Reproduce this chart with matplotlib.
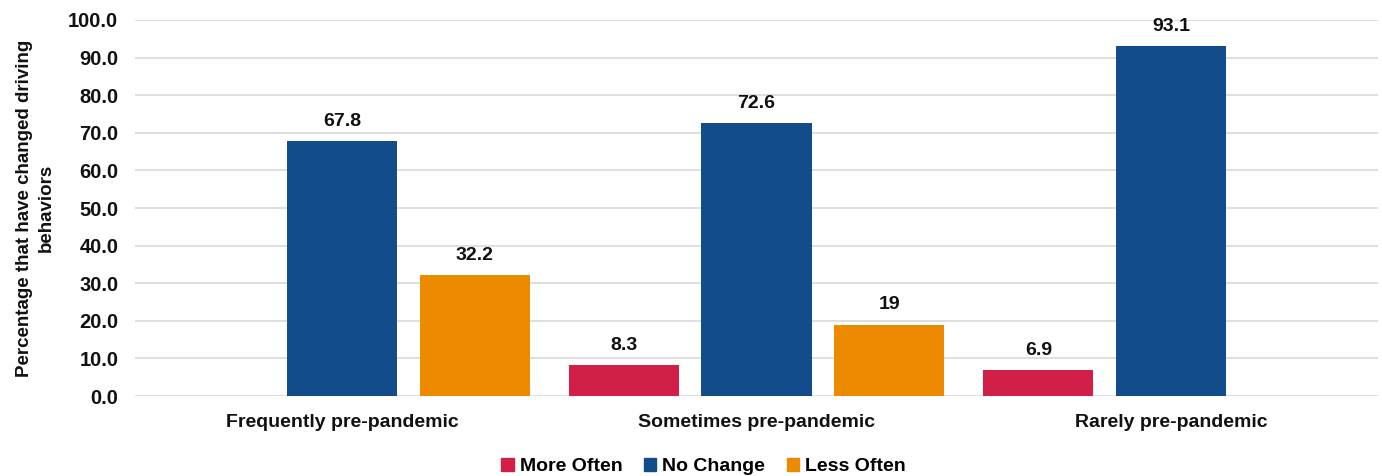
import numpy as np
import matplotlib.pyplot as plt
from matplotlib.patches import Patch

plt.rcParams['font.family'] = ['Liberation Sans', 'DejaVu Sans']
plt.rcParams['font.weight'] = 'bold'

categories = ["Frequently pre-pandemic", "Sometimes pre-pandemic", "Rarely pre-pandemic"]
series = ["More Often", "No Change", "Less Often"]
more_often = [None, 8.3, 6.9]
no_change = [67.8, 72.6, 93.1]
less_often = [32.2, 19, None]
labels = [
    [None, "8.3", "6.9"],
    ["67.8", "72.6", "93.1"],
    ["32.2", "19", None],
]
colors = ["#d21f47", "#134c8a", "#ec8b00"]

fig = plt.figure(figsize=(13.82, 4.76), dpi=100)
ax = fig.add_axes([0.0977, 0.168, 0.8995, 0.79])

x = np.arange(len(categories))
offsets = [-0.32, 0.0, 0.32]
width = 0.266
for vals, lab, off, col in zip([more_often, no_change, less_often], labels, offsets, colors):
    for i, v in enumerate(vals):
        if v is None:
            continue
        ax.bar(x[i] + off, v, width, color=col, zorder=3)
        ax.annotate(lab[i], (x[i] + off, v), xytext=(0, 8), textcoords="offset points",
                    ha="center", va="bottom", fontsize=14, fontweight="bold", color="#111111")

ax.set_xlim(-0.5, 2.5)
ax.set_ylim(0, 100)
ax.set_yticks(np.arange(0, 101, 10))
ax.set_yticklabels([f"{t:.1f}" for t in range(0, 101, 10)], fontsize=14.5, fontweight="bold")
ax.set_xticks(x)
ax.set_xticklabels(categories, fontsize=14, fontweight="bold")
ax.tick_params(axis="both", length=0, colors="#111111")
ax.tick_params(axis="y", pad=12)
ax.tick_params(axis="x", pad=13)
ax.yaxis.grid(True, color="#d9d9d9", linewidth=1.2, zorder=0)
for s in ax.spines.values():
    s.set_visible(False)

ax.set_ylabel("Percentage that have changed driving\nbehaviors", fontsize=13.5,
              fontweight="bold", color="#111111", labelpad=10, linespacing=1.3)

handles = [Patch(color=c, label=s) for s, c in zip(series, colors)]
fig.legend(handles=handles, loc="lower center", bbox_to_anchor=(0.509, -0.035), ncol=3,
           frameon=False, fontsize=14, handlelength=0.65, handleheight=0.65,
           handletextpad=0.3, columnspacing=1.1)

fig.savefig("out.png", dpi=100)
